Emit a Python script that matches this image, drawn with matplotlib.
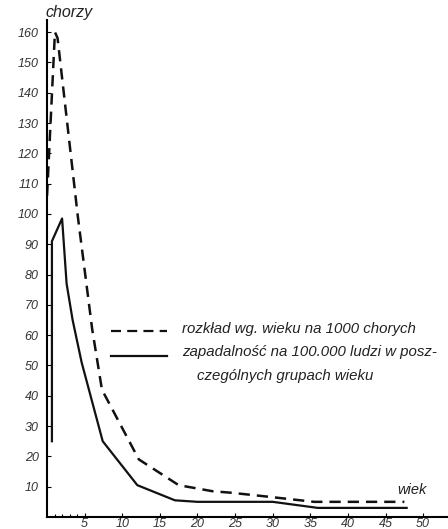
import matplotlib
matplotlib.use("Agg")
import matplotlib.pyplot as plt

# rozkład wg. wieku na 1000 chorych (dashed)
wiek_rozklad = [0.0, 1.05, 1.4, 4.1, 6.0, 7.3, 12.2, 17.5, 22.0, 24.5, 29.0, 35.5, 47.5]
rozklad = [106, 160, 158, 99, 62, 42, 19, 10.5, 8.5, 8, 6.8, 5, 5]

# zapadalność na 100.000 ludzi (solid)
wiek_zapad = [0.65, 0.65, 2.0, 2.6, 3.4, 4.6, 7.4, 12.0, 17.0, 20.0, 30.0, 36.0, 47.8]
zapad = [25, 91, 98.5, 77, 65, 51, 25, 10.5, 5.5, 5, 5, 3, 3]

y_ticks = list(range(10, 161, 10))
x_ticks = list(range(5, 51, 5))
x_minor = [1, 2, 3, 4]

plt.rcParams["font.family"] = ["Liberation Sans", "DejaVu Sans"]
plt.rcParams["font.style"] = "italic"

fig = plt.figure(figsize=(4.48, 5.29), dpi=100)
ax = fig.add_axes([0.105, 0.0227, 0.895, 0.9395])

ax.plot(wiek_rozklad, rozklad, color="#111111", lw=1.8, dashes=(4.5, 2.8))
ax.plot(wiek_zapad, zapad, color="#111111", lw=1.6)

ax.set_xlim(0, 53.3)
ax.set_ylim(0, 164)
ax.spines["top"].set_visible(False)
ax.spines["right"].set_visible(False)
ax.spines["left"].set_linewidth(1.5)
ax.spines["bottom"].set_linewidth(1.5)

ax.set_yticks(y_ticks)
ax.set_yticklabels([str(v) for v in y_ticks], fontsize=9, color="#333333")
ax.set_xticks(x_ticks)
ax.set_xticklabels([str(v) for v in x_ticks], fontsize=9, color="#333333")
ax.set_xticks(x_minor, minor=True)
ax.tick_params(axis="y", direction="in", length=3, width=0.8, pad=6)
ax.tick_params(axis="x", direction="in", length=3, width=0.8, pad=1)
ax.tick_params(axis="x", which="minor", direction="in", length=2, width=0.8)

ax.text(-0.005, 1.0, "chorzy", transform=ax.transAxes, fontsize=11.5,
        ha="left", va="bottom", color="#222222")
ax.text(50.5, 6.5, "wiek", fontsize=10.5, ha="right", va="bottom", color="#222222")

# legend drawn by hand
ax.plot([8.5, 16.0], [61.5, 61.5], color="#111111", lw=1.6, dashes=(4.5, 2.8))
ax.plot([8.5, 16.0], [53, 53], color="#111111", lw=1.6)
ax.text(18.0, 62, "rozkład wg. wieku na 1000 chorych", fontsize=10.8,
        ha="left", va="center", color="#222222")
ax.text(18.0, 54.5, "zapadalność na 100.000 ludzi w posz-", fontsize=10.8,
        ha="left", va="center", color="#222222")
ax.text(20.0, 46.5, "czególnych grupach wieku", fontsize=10.8,
        ha="left", va="center", color="#222222")

fig.savefig("out.png", dpi=100, facecolor="white")
